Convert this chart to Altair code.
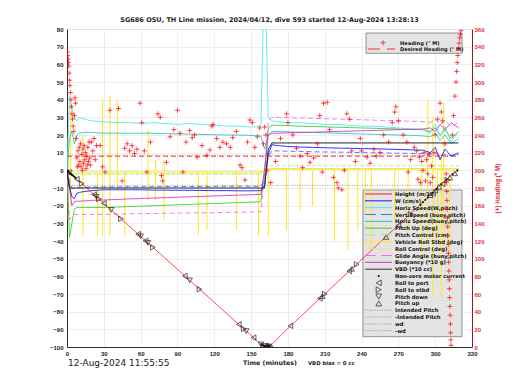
import altair as alt
import pandas as pd

TITLE = "SG686 OSU, TH Line mission, 2024/04/12, dive 593 started 12-Aug-2024 13:28:13"
DATE_TEXT = "12-Aug-2024 11:55:55"
VBD_TEXT = "VBD bias = 0 cc"

x_ticks = [0, 30, 60, 90, 120, 150, 180, 210, 240, 270, 300, 330]
y_ticks = [-100, -90, -80, -70, -60, -50, -40, -30, -20, -10, 0, 10, 20, 30, 40, 50, 60, 70, 80]
h_ticks = [0, 20, 40, 60, 80, 100, 120, 140, 160, 180, 200, 220, 240, 260, 280, 300, 320, 340, 360]

# time base (minutes) for the continuous series
T = [0, 2, 4, 6, 8, 10, 14, 20, 30, 40, 50, 60, 70, 80, 90, 100, 110, 120, 130, 140, 150, 158,
     161, 164, 167, 172, 180, 190, 200, 210, 220, 230, 240, 250, 260, 270, 280, 290, 296, 300,
     304, 308, 313, 319]
depth = [0, -1.2, -2.5, -3.7, -5, -6.2, -8.7, -12.5, -18.7, -24.9, -31.2, -37.4, -43.6, -49.8,
         -56, -62.3, -68.5, -74.7, -81, -87.2, -93.4, -98.5, -99.4, -99.6, -98.5, -95, -89.5, -83,
         -76.5, -70, -63.5, -57, -50.5, -44, -37.5, -31, -24.5, -18, -14, -11.3, -8.6, -6, -2.8, -0.3]
vbd = [-2, -10, -10, -10, -10, -10, -10, -10, -10, -10, -10, -10, -10, -10, -10, -10, -10, -10,
       -10, -10, -10, -10, -10, 12, 15.5, 15.5, 15.5, 15.5, 15.5, 15.5, 15.5, 15.5, 15.5, 15.5,
       15.5, 15.5, 15.5, 15.5, 15.5, 15.5, 15.5, 15.5, 15.5, 15.5]
w_obs = [0, -9, -15, -16, -13, -12.5, -12, -11.5, -11, -11, -11, -11, -11.2, -11.2, -11.3, -11.3,
         -11.4, -11.5, -11.5, -11.6, -11.6, -11.5, -8, 9, 14.5, 14, 13.5, 13.2, 13, 12.8, 12.6,
         12.5, 12.3, 12.2, 12, 11.8, 11.6, 11.4, 10, 13, 6, 12, 8, 10]
vert_speed = [0, -6, -10, -10.5, -10, -9.8, -9.6, -9.5, -9.4, -9.4, -9.3, -9.3, -9.3, -9.2, -9.2,
              -9.2, -9.1, -9.1, -9, -9, -9, -9, -5, 8, 11, 11, 10.8, 10.7, 10.5, 10.4, 10.3, 10.2,
              10, 10, 9.8, 9.7, 9.6, 9.5, 9.5, 10, 8, 9, 8.5, 9]
horiz_w = [0, 42, 36, 30, 28, 30, 29, 28, 27.5, 27, 27, 26.5, 27, 26.5, 26, 26.5, 26, 25.5, 25, 25,
           24.5, 25, 120, 30, 28, 27.5, 27, 27, 26.5, 26, 26, 25.5, 25, 25, 24.5, 24, 23.5, 23, 21,
           26, 19, 25, 16, 22]
horiz_buoy = [0, 18, 22, 15, 20, 21, 21.5, 21.5, 21, 21, 21, 21, 21, 20.8, 20.6, 20.5, 20.3, 20.2,
              20, 20, 19.8, 19.5, 12, 20, 22, 22, 21.8, 21.6, 21.4, 21.2, 21, 20.8, 20.6, 20.4,
              20.2, 20, 19.8, 19.5, 19, 21, 17, 20, 15, 18]
pitch_up = [0, -38, -30, -22, -21, -21, -21, -21, -21, -20.8, -20.5, -20.3, -20, -19.8, -19.5,
            -19.3, -19, -18.8, -18.5, -18.3, -18, -17.8, 0, 24, 25.5, 25.5, 25.3, 25, 24.8, 24.6,
            24.4, 24.2, 24, 23.8, 23.6, 23.4, 23.2, 23, 22, 24, 20, 23, 18, 22]
pitch_ctl = [0, -3, -2.5, -2.3, -2.2, -2.2, -2.2, -2.2, -2.2, -2.2, -2.2, -2.2, -2.2, -2.2, -2.2,
             -2.2, -2.2, -2.2, -2.2, -2.2, -2.2, -2.2, 0, 2.5, 2.6, 2.6, 2.6, 2.6, 2.6, 2.6, 2.6,
             2.6, 2.6, 2.6, 2.6, 2.6, 2.6, 2.6, 2.6, 2.6, 2.6, 2.6, 2.6, 2.6]
roll = [0, -3, -2, -1.5, -1.5, -1.5, -1.5, -1.5, -1.5, -1.5, -1.5, -1.5, -1.5, -1.5, -1.5, -1.5,
        -1.5, -1.5, -1.5, -1.5, -1.5, -1.5, 0, 1, 1, 1, 1, 1, 1, 1, 1, 1, 1, 1, 1, 1, 1, 1, 1, 1,
        1, 1, 1, 1]
roll_ctl = [0, -1, -0.5, -0.5, -0.5, -0.5, -0.5, -0.5, -0.5, -0.5, -0.5, -0.5, -0.5, -0.5, -0.5,
            -0.5, -0.5, -0.5, -0.5, -0.5, -0.5, -0.5, 0, 0.5, 0.5, 0.5, 0.5, 0.5, 0.5, 0.5, 0.5,
            0.5, 0.5, 0.5, 0.5, 0.5, 0.5, 0.5, 0.5, 0.5, 0.5, 0.5, 0.5, 0.5]
glide = [0, -28, -26, -25, -25, -25, -25, -25, -25, -24.8, -24.6, -24.5, -24.4, -24.3, -24.2,
         -24.1, -24, -24, -23.8, -23.7, -23.6, -23.5, 0, 28, 30, 30, 29.8, 29.6, 29.4, 29.2, 29,
         28.8, 28.6, 28.4, 28.2, 28, 27.8, 27.6, 27, 29, 26, 28, 25, 27]
buoyancy = [0, -10, -20, -18, -17.5, -17.5, -17.3, -17, -16.8, -16.5, -16.2, -16, -15.7, -15.5,
            -15.2, -15, -14.8, -14.5, -14.3, -14, -13.8, -13.6, 0, 20, 21, 21, 21.2, 21.4, 21.6,
            21.8, 22, 22.2, 22.4, 22.6, 22.8, 23, 23.2, 23.4, 24, 22, 26, 23, 27, 24]

# w_d lines
wd_t = [0, 319]
wd_v = [8.5, 8.5]
neg_wd_v = [-8.5, -8.5]

# roll manoeuvre spikes (vehicle roll)
spike_t = [1, 3, 13, 25, 29, 35, 41, 47, 66, 72, 79, 107, 114, 138, 156, 164, 179, 190, 200, 218,
           229, 237, 243, 248, 267, 278, 289, 294, 298, 302, 305, 307, 312]
spike_lo = [-28, -20, -37, -37, -37, -37, -11, -37, -17, -17, -28, -37, -34, -34, -37, -37, -34,
            -23, -20, -40, -45, -34, -25, -45, -28, -34, -50, -45, -70, -40, -72, -45, -48]
spike_hi = [18, 38, 20, -1, 40, 42, 40, -1, 23, 6, 6, -1, 0, 0, 0, 0, 0, 0, 0, 0, 0, 0, 0, 0, 0,
            0, 0, 40, 30, 0, 10, 38, 0]

# markers on the depth trace
port_t = [8, 22, 30, 58, 64, 96, 140, 152, 162, 182, 206, 230, 270, 300, 306]
port_d = [-5, -13.7, -18.7, -36.1, -39.9, -59.8, -87.2, -94.7, -99.5, -88, -72.5, -57, -31.2,
          -11.3, -7.7]
stbd_t = [12, 26, 44, 70, 108, 144, 160, 165, 210, 236, 280, 310]
stbd_d = [-7.5, -16.2, -27.4, -43.6, -67.3, -89.7, -99.2, -99.4, -70, -53.2, -24.8, -5.4]
pdown_t = [2, 24, 36, 60, 66, 100, 146, 158, 161]
pdown_d = [-1.2, -15, -22.4, -37.4, -41.1, -62.3, -91, -98.5, -99.4]
pup_t = [163, 164.5, 166, 208, 232, 260, 296, 303, 312, 316]
pup_d = [-99.6, -99.6, -99.3, -71.2, -55.7, -37.7, -14, -9.3, -4.1, -1.7]
motor_t = [0.5, 1, 1.5, 2.5, 3, 3.5, 4, 5, 6, 7, 158.5, 159, 160, 161, 162, 163, 164, 165, 288,
           290, 292, 294, 298, 301, 305, 309, 314, 318]
motor_d = [-0.3, -0.6, -0.9, -1.6, -1.9, -2.2, -2.5, -3.1, -3.7, -4.4, -98.8, -99, -99.2, -99.4,
           -99.5, -99.6, -99.6, -99.5, -19.6, -18, -16.7, -15.4, -12.7, -10.7, -8, -5.4, -2.2, 0]

# heading (right axis)
heading_t = [0.3, 0.6, 0.9, 1.2, 1.5, 1.8, 2.1, 2.4, 2.8, 3.2, 3.6, 4.0, 4.5, 5.0, 5.5, 6.0, 6.5,
             7.0, 7.5,
             8, 8.5, 9, 9.5, 10, 10.5, 11, 11.5, 12, 12.5, 13, 13.5, 14, 14.5, 15, 15.5, 16, 16.5,
             17, 17.5, 18, 18.5, 19, 20, 21, 22, 23, 24,
             27, 29, 31, 35, 42, 45, 47, 49, 51, 53, 55, 57, 59.5, 61, 63, 65, 68, 74, 76, 77, 78,
             81, 84, 87, 90, 92, 94.5, 97, 100, 102, 104, 106, 110, 114, 116.5, 118, 119, 122,
             124.6, 127, 130, 133, 135, 138, 141, 142.6, 145, 147, 149, 151, 153, 155, 157,
             160, 161, 162, 163, 166, 170, 174, 179, 180, 184, 187, 190, 192, 195.6, 198, 201, 204,
             206, 208, 209, 212, 214, 217, 220, 221, 224, 226, 228, 230, 232, 235, 239, 240, 244.5,
             247, 250, 252, 255, 258, 262, 265, 267, 268, 270, 274, 277, 278, 280, 283,
             285, 286, 287, 288, 289, 290, 291, 292, 293, 294, 295, 296, 297, 298, 299, 300, 302,
             304, 305, 306, 308,
             309.0, 309.2, 309.4, 309.6, 309.8, 310.0, 310.2, 310.4, 310.6, 310.8, 311.0, 311.2,
             311.4, 311.6, 311.8, 312.0, 312.2, 312.4, 312.6, 312.8, 313.0,
             314, 315, 316, 317, 317.5, 318, 318.5, 319, 319.5, 320, 320.5, 321]
heading_v = [334, 330, 326, 322, 318, 310, 302, 296, 288, 280, 272, 264, 258, 250, 244, 262, 282,
             276, 236,
             214, 204, 222, 206, 226, 210, 230, 204, 218, 200, 224, 208, 228, 212, 220, 202, 216,
             206, 226, 210, 232, 214, 206, 232, 222, 236, 212, 228,
             228, 204, 198, 268, 270, 188, 225, 230, 222, 228, 219, 224, 276, 254, 222, 198, 232,
             264, 260, 194, 188, 209, 238, 246, 268, 242, 198, 232, 245, 237, 240, 215, 228, 217,
             223, 250, 252, 236, 226, 232, 230, 226, 237, 244, 206, 203, 189, 232, 257, 254, 226,
             238, 248,
             230, 249, 240, 200, 186, 210, 236, 264, 254, 240, 225, 216, 203, 219, 209, 214, 230,
             262, 198, 276, 277, 246, 192, 186, 180, 178, 200, 264, 258, 222, 210, 236, 222, 215,
             208, 224, 216, 220, 240, 232, 254, 266, 272, 256, 240, 232, 198, 212, 226,
             222, 190, 215, 186, 210, 200, 220, 188, 212, 196, 218, 186, 205, 192, 220, 240, 258,
             276, 266, 256, 230,
             196, 186, 176, 166, 156, 146, 136, 126, 116, 106, 96, 86, 76, 66, 56, 46, 36, 26, 16,
             8, 2,
             240, 262, 284, 300, 312, 322, 330, 338, 344, 350, 354, 358]
desired_t = [0, 319]
desired_v = [216, 216]

# legend entries
legend_labels = ["Height (m/10)", "W (cm/s)", "Horiz Speed(W,pitch)", "Vert Speed (buoy,pitch)",
                 "Horiz Speed(buoy,pitch)", "Pitch Up (deg)", "Pitch Control (cm)",
                 "Vehicle Roll Stbd (deg)", "Roll Control (deg)", "Glide Angle (buoy,pitch)",
                 "Buoyancy (*10 g)", "VBD (*10 cc)", "Non-zero motor current", "Roll to port",
                 "Roll to stbd", "Pitch down", "Pitch up", "Intended Pitch", "-Intended Pitch",
                 "wd", "-wd"]
legend_kind = ["solid", "solid", "solid", "dash", "solid", "solid", "dash", "solid", "solid",
               "dash", "solid", "solid", "motor", "port", "stbd", "pdown", "pup", "dot", "dot",
               "dot", "dot"]
heading_labels = ["Heading (\u00b0 M)", "Desired Heading (\u00b0 M)"]

# ---------------- styles ----------------
FONT = "Liberation Sans"
TFONT = "DejaVu Sans"
RED = "#ff0000"
C_W = "#0000ff"
C_VS = "#3a5cff"
C_HW = "#40e8e8"
C_HB = "#1fbcbc"
C_PITCH = "#22cc22"
C_PCTL = "#9be89b"
C_ROLL = "#ffe81a"
C_RCTL = "#eee08a"
C_GLIDE = "#f060f0"
C_BUOY = "#cc22cc"
C_VBD = "#222222"
C_GREY = "#8a8a8a"
C_MARK = "#222222"

legend_colors = [RED, C_W, C_HW, C_VS, C_HB, C_PITCH, C_PCTL, C_ROLL, C_RCTL, C_GLIDE, C_BUOY,
                 C_VBD, "#000000", C_MARK, C_MARK, C_MARK, C_MARK, C_GREY, C_GREY, C_GREY, C_GREY]
PLUS = "M-1,0L1,0M0,-1L0,1"

# ---------------- scales / axes ----------------
xscale = alt.Scale(domain=[0, 330], nice=False, zero=False)
xaxis = alt.Axis(values=x_ticks, title="Time (minutes)", grid=True, gridColor="#e2e2e2",
                 gridWidth=0.6, ticks=False, domainColor="#000000", domainWidth=0.8,
                 labelFont=FONT, labelFontSize=6, labelFontWeight="bold", labelColor="#222222",
                 labelPadding=3, labelFlush=False, titleFont=TFONT, titleFontSize=6.3,
                 titleFontWeight="bold", titleColor="#222222", titlePadding=3)
yscale = alt.Scale(domain=[-100, 80], nice=False, zero=False)
yaxis = alt.Axis(values=y_ticks, title=None, grid=True, gridColor="#e2e2e2", gridWidth=0.6,
                 ticks=False, domainColor="#000000", domainWidth=0.8, labelFont=FONT,
                 labelFontSize=6, labelFontWeight="bold", labelColor="#222222", labelPadding=4,
                 labelFlush=False)
hscale = alt.Scale(domain=[0, 360], nice=False, zero=False)
haxis = alt.Axis(orient="right", values=h_ticks, title="(+) Heading (\u00b0 M)", grid=False,
                 ticks=False, domainColor="#8b1c2c", domainWidth=1, labelFont=FONT,
                 labelFontSize=6, labelFontWeight="bold", labelColor="#dd3344", labelPadding=2,
                 labelFlush=False, titleFont=FONT, titleFontSize=6.3, titleFontWeight="bold",
                 titleColor="#dd3344", titleAngle=270, titlePadding=16)

X = alt.X("t:Q", scale=xscale, axis=xaxis)
Y = alt.Y("v:Q", scale=yscale, axis=yaxis)
YH = alt.Y("h:Q", scale=hscale, axis=haxis)


def line_layer(tt, vv, color, dash=None, width=0.8):
    df = pd.DataFrame({"t": tt, "v": vv})
    kw = dict(color=color, strokeWidth=width, clip=True)
    if dash:
        kw["strokeDash"] = dash
    return alt.Chart(df).mark_line(**kw).encode(x=X, y=Y)


def marker_layer(tt, dd, shape, size=30):
    df = pd.DataFrame({"t": tt, "v": dd})
    return alt.Chart(df).mark_point(shape=shape, size=size, filled=False, color=C_MARK,
                                    strokeWidth=0.7, opacity=1, clip=True).encode(x=X, y=Y)


spike_df = pd.DataFrame({"t": spike_t, "lo": spike_lo, "hi": spike_hi})
spikes = alt.Chart(spike_df).mark_rule(color=C_ROLL, strokeWidth=1, clip=True).encode(
    x=X, y=alt.Y("lo:Q", scale=yscale, axis=yaxis), y2="hi:Q")

date_txt = alt.Chart(pd.DataFrame({"txt": [DATE_TEXT]})).mark_text(
    align="left", baseline="middle", font="DejaVu Sans", fontSize=9, color="#222222").encode(
    x=alt.value(1), y=alt.value(334), text="txt:N")
vbd_txt = alt.Chart(pd.DataFrame({"txt": [VBD_TEXT]})).mark_text(
    align="left", baseline="middle", font=TFONT, fontSize=5.3, fontWeight="bold",
    color="#222222").encode(x=alt.value(241), y=alt.value(333.5), text="txt:N")

left = alt.layer(
    line_layer(T, roll_ctl, C_RCTL),
    line_layer(T, roll, C_ROLL, width=1),
    spikes,
    line_layer(T, pitch_ctl, C_PCTL, dash=[4, 2]),
    line_layer(wd_t, wd_v, C_GREY, dash=[1, 1.5]),
    line_layer(wd_t, neg_wd_v, C_GREY, dash=[1, 1.5]),
    line_layer(T, pitch_up, C_PITCH),
    line_layer(T, horiz_buoy, C_HB),
    line_layer(T, horiz_w, C_HW),
    line_layer(T, buoyancy, C_BUOY),
    line_layer(T, glide, C_GLIDE, dash=[5, 3]),
    line_layer(T, vert_speed, C_VS, dash=[5, 3]),
    line_layer(T, w_obs, C_W),
    line_layer(T, vbd, C_VBD, width=1),
    line_layer(T, depth, RED, width=0.7),
    alt.Chart(pd.DataFrame({"t": motor_t, "v": motor_d})).mark_circle(
        size=4, color="#000000", opacity=1, clip=True).encode(x=X, y=Y),
    marker_layer(port_t, port_d, "triangle-left"),
    marker_layer(stbd_t, stbd_d, "triangle-right"),
    marker_layer(pdown_t, pdown_d, "triangle-down"),
    marker_layer(pup_t, pup_d, "triangle-up"),
    date_txt,
    vbd_txt,
)

# ---------------- legend boxes (drawn beneath the data, as in the original) ----------------
box_main = alt.Chart(pd.DataFrame({"box": ["main"]})).mark_rect(
    fill="#e4e4e4", stroke="#6a6a6a", strokeWidth=0.7).encode(
    x=alt.value(296), x2=alt.value(395), y=alt.value(161), y2=alt.value(307.7))
box_head = alt.Chart(pd.DataFrame({"box": ["head"]})).mark_rect(
    fill="#e4e4e4", stroke="#6a6a6a", strokeWidth=0.7).encode(
    x=alt.value(299), x2=alt.value(395), y=alt.value(4), y2=alt.value(24.3))
legend_bg = alt.layer(box_main, box_head)

# main legend entries
leg_df = pd.DataFrame({"entry": legend_labels, "kind": legend_kind})
LROW = alt.Y("entry:N", scale=alt.Scale(type="point", domain=legend_labels, range=[165, 301.7],
                                        padding=0), axis=None)
LCOL = alt.Color("entry:N", scale=alt.Scale(domain=legend_labels, range=legend_colors),
                 legend=None)
leg_base = alt.Chart(leg_df)


def leg_rule(kind, dash=None):
    kw = dict(strokeWidth=0.9)
    if dash:
        kw["strokeDash"] = dash
    return leg_base.transform_filter(alt.datum.kind == kind).mark_rule(**kw).encode(
        x=alt.value(298), x2=alt.value(325), y=LROW, color=LCOL)


def leg_mark(kind, shape):
    return leg_base.transform_filter(alt.datum.kind == kind).mark_point(
        shape=shape, size=34, filled=False, strokeWidth=0.7, opacity=1, color=C_MARK).encode(
        x=alt.value(311.7), y=LROW)


legend_main = alt.layer(
    leg_rule("solid"),
    leg_rule("dash", [11, 5]),
    leg_rule("dot", [1, 1.4]),
    leg_base.transform_filter(alt.datum.kind == "motor").mark_circle(
        size=4, color="#000000", opacity=1).encode(x=alt.value(311.7), y=LROW),
    leg_mark("port", "triangle-left"),
    leg_mark("stbd", "triangle-right"),
    leg_mark("pdown", "triangle-down"),
    leg_mark("pup", "triangle-up"),
    leg_base.mark_text(align="left", baseline="middle", font=TFONT, fontSize=5.25,
                       fontWeight="bold", color="#111111").encode(
        x=alt.value(328), y=LROW, text="entry:N"),
)

# heading legend entries
hleg_df = pd.DataFrame({"entry": heading_labels})
HROW = alt.Y("entry:N", scale=alt.Scale(type="point", domain=heading_labels, range=[13.7, 20],
                                        padding=0), axis=None)
hbase = alt.Chart(hleg_df)
legend_head = alt.layer(
    hbase.transform_filter(alt.datum.entry == heading_labels[0]).mark_point(
        shape=PLUS, size=25, filled=False, strokeWidth=0.7, color=RED, opacity=1).encode(
        x=alt.value(316), y=HROW),
    hbase.transform_filter(alt.datum.entry == heading_labels[1]).mark_rule(
        color=RED, strokeWidth=0.8, strokeDash=[12, 7]).encode(
        x=alt.value(301), x2=alt.value(328), y=HROW),
    hbase.mark_text(align="left", baseline="middle", font=TFONT, fontSize=5.1,
                    fontWeight="bold", color="#111111").encode(
        x=alt.value(333), y=HROW, text="entry:N"),
)

desired = alt.Chart(pd.DataFrame({"t": desired_t, "h": desired_v})).mark_line(
    color=RED, strokeDash=[5, 3], strokeWidth=0.8, clip=True).encode(x=X, y=YH)
heading_pts = alt.Chart(pd.DataFrame({"t": heading_t, "h": heading_v})).mark_point(
    shape=PLUS, filled=False, size=25, strokeWidth=0.7, color=RED, opacity=1, clip=True).encode(
    x=X, y=YH)
right = alt.layer(desired, heading_pts)

chart = alt.layer(legend_bg, left, legend_main, legend_head, right).resolve_scale(
    y="independent", color="independent"
).properties(
    width=405, height=318,
    title=alt.TitleParams(text=TITLE, font=TFONT, fontSize=6.5, fontWeight="bold",
                          color="#222222", anchor="middle", frame="group", offset=3),
    autosize=alt.AutoSizeParams(type="none"),
    padding={"left": 59, "top": 21, "right": 38, "bottom": 33},
).configure_view(stroke="#000000", strokeWidth=0.8).configure(background="white")

chart.save("out.html", embed_options={"renderer": "svg", "actions": False})
